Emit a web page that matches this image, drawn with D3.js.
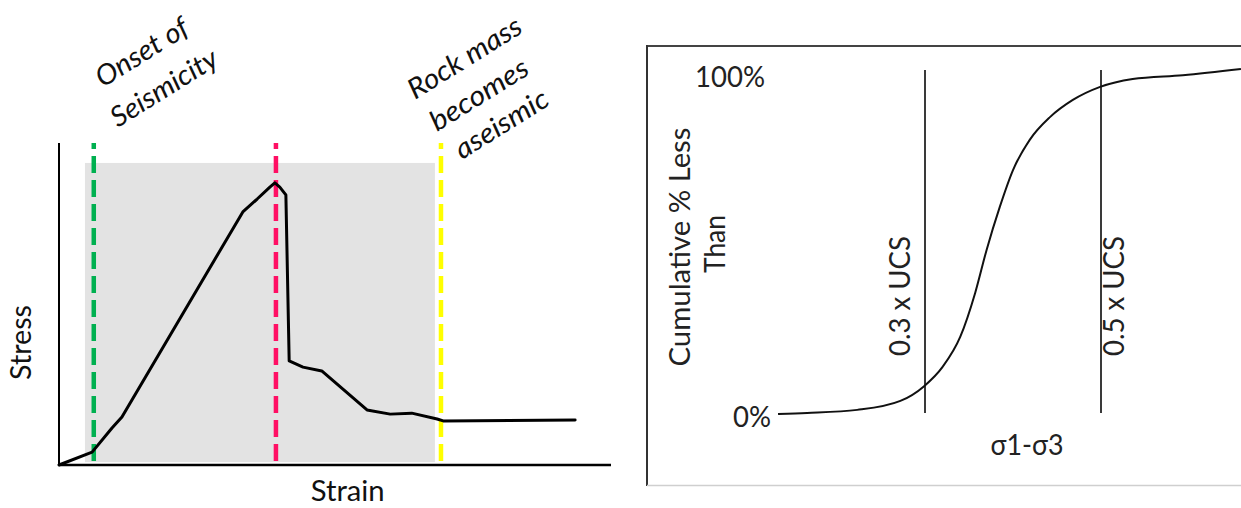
<!DOCTYPE html>
<html>
<head>
<meta charset="utf-8">
<script src="https://cdn.jsdelivr.net/npm/d3@7"></script>
<style>
  html, body { margin: 0; padding: 0; background: #ffffff; }
  svg { display: block; }
  text { font-family: Lato, "Open Sans", "Noto Sans", sans-serif; }
</style>
</head>
<body>
<svg id="chart" width="1241" height="508"></svg>
<script>
// ---------------- LEFT PANEL DATA (stress-strain, arbitrary units 0-100) ----------------
const strain = [0, 6.0, 9.6, 11.4, 33.3, 35.9, 38.2, 39.1, 40.0, 41.1, 41.7, 44.2, 47.6, 55.8, 60.0, 63.9, 68.5, 69.6, 93.5];
const stress = [0, 4.0, 11.5, 14.9, 78.6, 82.6, 86.3, 87.6, 86.3, 83.9, 32.3, 30.4, 29.2, 17.1, 15.8, 16.1, 14.3, 13.7, 14.0];
const markerNames = ["onset", "peak", "aseismic"];
const markerStrain = [6.3, 39.3, 69.2];
const markerColors = ["#00b050", "#ff0f64", "#ffff00"];
const shadeStrain = [4.7, 68.1];
const shadeStress = [0.9, 93.8];
const onsetLines = ["Onset of", "Seismicity"];
const aseismicLines = ["Rock mass", "becomes", "aseismic"];
const leftXLabel = "Strain";
const leftYLabel = "Stress";

// ---------------- RIGHT PANEL DATA (cumulative distribution) ----------------
const devStress = [0.133, 0.166, 0.223, 0.272, 0.299, 0.320, 0.340, 0.357, 0.370, 0.385, 0.400, 0.419, 0.442, 0.468, 0.499, 0.536, 0.593, 0.659];
const cumPct =    [0.0,   0.3,   1.2,   3.8,   8.1,   13.7,  22.4,  35.2,  47.7,  60.2,  70.9,  79.7,  86.3,  91.3,  95.1,  97.4,  98.5,  100.3];
const ucsFractions = [0.3, 0.5];
const ucsLabels = ["0.3 x UCS", "0.5 x UCS"];
const pctTicks = [100, 0];
const pctTickLabels = ["100%", "0%"];
const rightXLabel = "σ1-σ3";
const rightYLabel = ["Cumulative % Less", "Than"];

const svg = d3.select("#chart");

// ================= LEFT PANEL =================
const xL = d3.scaleLinear().domain([0, 100]).range([59, 611]);
const yL = d3.scaleLinear().domain([0, 100]).range([465, 143]);
const gL = svg.append("g");

// shaded seismic region
gL.append("rect")
  .attr("x", xL(shadeStrain[0]))
  .attr("y", yL(shadeStress[1]))
  .attr("width", xL(shadeStrain[1]) - xL(shadeStrain[0]))
  .attr("height", yL(shadeStress[0]) - yL(shadeStress[1]))
  .attr("fill", "#e3e3e3");

// axes (no ticks)
const axL = gL.append("g");
axL.append("line").attr("x1", xL(0)).attr("x2", xL(0)).attr("y1", yL(0)).attr("y2", yL(100))
  .attr("stroke", "#000").attr("stroke-width", 2);
axL.append("line").attr("x1", xL(0)).attr("x2", xL(100)).attr("y1", yL(0)).attr("y2", yL(0))
  .attr("stroke", "#000").attr("stroke-width", 2.5);

// dashed marker lines
gL.selectAll("line.marker").data(markerStrain).enter().append("line")
  .attr("class", "marker")
  .attr("x1", d => xL(d)).attr("x2", d => xL(d))
  .attr("y1", yL(100)).attr("y2", yL(shadeStress[0]))
  .attr("stroke", (d, i) => markerColors[i])
  .attr("stroke-width", 4.5)
  .attr("stroke-dasharray", "17,7")
  .attr("stroke-dashoffset", 11);

// stress-strain curve
const ssData = strain.map((s, i) => ({ x: s, y: stress[i] }));
gL.append("path")
  .datum(ssData)
  .attr("fill", "none")
  .attr("stroke", "#000")
  .attr("stroke-width", 3)
  .attr("stroke-linejoin", "round")
  .attr("stroke-linecap", "round")
  .attr("d", d3.line().x(d => xL(d.x)).y(d => yL(d.y)));

// axis titles
gL.append("text")
  .attr("x", xL(52.3)).attr("y", 501)
  .attr("text-anchor", "middle")
  .attr("font-size", 28).attr("fill", "#111")
  .attr("textLength", 74).attr("lengthAdjust", "spacingAndGlyphs")
  .text(leftXLabel);
gL.append("text")
  .attr("transform", `translate(31, 342.5) rotate(-90)`)
  .attr("text-anchor", "middle")
  .attr("font-size", 28).attr("fill", "#111")
  .attr("textLength", 75).attr("lengthAdjust", "spacingAndGlyphs")
  .text(leftYLabel);

// rotated italic annotations
const angle = -32;
const onsetOffsets = [[9, 88], [24, 128]];
const onsetLens = [104, 121];
onsetLines.forEach((t, i) => {
  gL.append("text")
    .attr("transform", `translate(${xL(markerStrain[0]) + onsetOffsets[i][0]}, ${onsetOffsets[i][1]}) rotate(${angle})`)
    .attr("font-size", 28).attr("font-style", "italic").attr("fill", "#111")
    .attr("textLength", onsetLens[i]).attr("lengthAdjust", "spacingAndGlyphs")
    .text(t);
});
const aseOffsets = [[-26, 100], [-4, 132], [21, 160]];
const aseLens = [129, 111, 105];
aseismicLines.forEach((t, i) => {
  gL.append("text")
    .attr("transform", `translate(${xL(markerStrain[2]) + aseOffsets[i][0]}, ${aseOffsets[i][1]}) rotate(${angle})`)
    .attr("font-size", 28).attr("font-style", "italic").attr("fill", "#111")
    .attr("textLength", aseLens[i]).attr("lengthAdjust", "spacingAndGlyphs")
    .text(t);
});

// ================= RIGHT PANEL =================
const xR = d3.scaleLinear().domain([0, 1]).range([661, 1541]);
const yR = d3.scaleLinear().domain([0, 100]).range([414, 70]);
const gR = svg.append("g");

// frame
gR.append("line").attr("x1", 647).attr("x2", 1241).attr("y1", 46).attr("y2", 46)
  .attr("stroke", "#444").attr("stroke-width", 2);
gR.append("line").attr("x1", 647).attr("x2", 647).attr("y1", 45).attr("y2", 486)
  .attr("stroke", "#333").attr("stroke-width", 2);
gR.append("line").attr("x1", 647).attr("x2", 1241).attr("y1", 485.5).attr("y2", 485.5)
  .attr("stroke", "#cfcfcf").attr("stroke-width", 1.5);

// UCS reference lines
gR.selectAll("line.ucs").data(ucsFractions).enter().append("line")
  .attr("class", "ucs")
  .attr("x1", d => xR(d)).attr("x2", d => xR(d))
  .attr("y1", yR(100)).attr("y2", yR(0.3))
  .attr("stroke", "#3a3a3a").attr("stroke-width", 2);

// UCS labels
ucsLabels.forEach((t, i) => {
  gR.append("text")
    .attr("transform", `translate(${xR(ucsFractions[i]) + (i === 0 ? -15 : 23)}, 296) rotate(-90)`)
    .attr("text-anchor", "middle")
    .attr("font-size", 28).attr("fill", "#222")
    .attr("textLength", 120).attr("lengthAdjust", "spacingAndGlyphs")
    .text(t);
});

// cumulative curve
const cdf = devStress.map((s, i) => ({ x: s, y: cumPct[i] }));
gR.append("path")
  .datum(cdf)
  .attr("fill", "none")
  .attr("stroke", "#111")
  .attr("stroke-width", 2)
  .attr("d", d3.line().curve(d3.curveMonotoneX).x(d => xR(d.x)).y(d => yR(d.y)));

// percent tick labels
const tickRight = [765, 771];
const tickLens = [70, 38];
pctTicks.forEach((v, i) => {
  gR.append("text")
    .attr("x", tickRight[i]).attr("y", yR(v) + (i === 0 ? 17 : 13))
    .attr("text-anchor", "end")
    .attr("font-size", 28).attr("fill", "#222")
    .attr("textLength", tickLens[i]).attr("lengthAdjust", "spacingAndGlyphs")
    .text(pctTickLabels[i]);
});

// axis titles
gR.append("text")
  .attr("x", 1027).attr("y", 455)
  .attr("text-anchor", "middle")
  .attr("font-size", 28).attr("fill", "#222")
  .attr("textLength", 73).attr("lengthAdjust", "spacingAndGlyphs")
  .text(rightXLabel);
const ylPos = [[690, 247, 239], [725, 244, 58]];
rightYLabel.forEach((t, i) => {
  gR.append("text")
    .attr("transform", `translate(${ylPos[i][0]}, ${ylPos[i][1]}) rotate(-90)`)
    .attr("text-anchor", "middle")
    .attr("font-size", 28).attr("fill", "#222")
    .attr("textLength", ylPos[i][2]).attr("lengthAdjust", "spacingAndGlyphs")
    .text(t);
});
</script>
</body>
</html>
